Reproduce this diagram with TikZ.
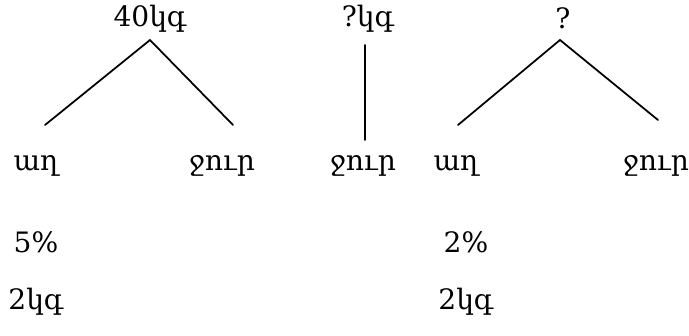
\documentclass[tikz,border=0pt]{standalone}
\usepackage{fontspec}
\usetikzlibrary{calc}
\newfontfamily\armfont{DejaVu Serif}
\tikzset{lbl/.style={font=\armfont\fontsize{16}{19}\selectfont,inner sep=1pt},
  leg/.style={line width=1pt,line cap=round}}

\begin{document}
\begin{tikzpicture}[x=0.02cm,y=-0.02cm]
\useasboundingbox (0,0) rectangle (689,335);
\node[lbl] (topa) at (150,19) {40կգ};
\node[lbl] (salta) at (36,166) {աղ};
\node[lbl] (watera) at (222,166) {ջուր};
\node[lbl] (topb) at (368,19) {?կգ};
\node[lbl] (waterb) at (363,166) {ջուր};
\node[lbl] (topc) at (563,18) {?};
\node[lbl] (saltc) at (456,166) {աղ};
\node[lbl] (waterc) at (656,166) {ջուր};
\node[lbl] (pcta) at (36,242) {5\%};
\node[lbl] (pctc) at (466,242) {2\%};
\node[lbl] (kga) at (36,302) {2կգ};
\node[lbl] (kgc) at (466,302) {2կգ};
\draw[leg] ($(salta)+(9,-41)$) -- ($(topa)+(0,21)$) -- ($(watera)+(11,-41)$);
\draw[leg] ($(topb)+(-3,26)$) -- ($(waterb)+(2,-26)$);
\draw[leg] ($(saltc)+(2,-41)$) -- ($(topc)+(-3,22)$) -- ($(waterc)+(2,-46)$);
\end{tikzpicture}
\end{document}
